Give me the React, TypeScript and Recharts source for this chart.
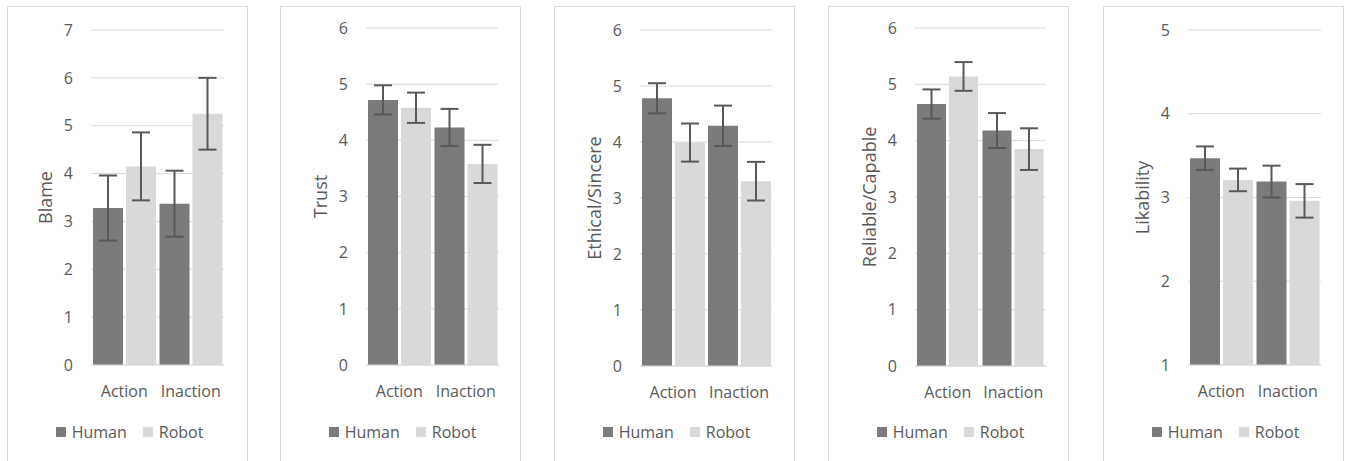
import React from 'react';
import { BarChart, Bar, XAxis, YAxis, CartesianGrid, ErrorBar, Legend } from 'recharts';

const categories = ['Action', 'Inaction'];

const blameHuman = [3.28, 3.37];
const blameHumanErr = [0.68, 0.69];
const blameRobot = [4.15, 5.25];
const blameRobotErr = [0.71, 0.75];

const trustHuman = [4.72, 4.23];
const trustHumanErr = [0.26, 0.33];
const trustRobot = [4.58, 3.58];
const trustRobotErr = [0.27, 0.34];

const ethicalHuman = [4.78, 4.29];
const ethicalHumanErr = [0.27, 0.36];
const ethicalRobot = [3.99, 3.3];
const ethicalRobotErr = [0.34, 0.345];

const reliableHuman = [4.65, 4.18];
const reliableHumanErr = [0.26, 0.31];
const reliableRobot = [5.14, 3.85];
const reliableRobotErr = [0.255, 0.37];

const likeHuman = [3.47, 3.19];
const likeHumanErr = [0.14, 0.19];
const likeRobot = [3.21, 2.96];
const likeRobotErr = [0.135, 0.2];

const blameTicks = [0, 1, 2, 3, 4, 5, 6, 7];
const sixTicks = [0, 1, 2, 3, 4, 5, 6];
const likeTicks = [1, 2, 3, 4, 5];

const HUMAN = '#7b7b7b';
const ROBOT = '#d9d9d9';
const TEXT = '#595959';
const GRID = '#d9d9d9';

const build = (h: number[], he: number[], r: number[], re: number[]) =>
  categories.map((c, i) => ({ cat: c, human: h[i], humanErr: he[i], robot: r[i], robotErr: re[i] }));

const panels = [
  { label: 'Blame', data: build(blameHuman, blameHumanErr, blameRobot, blameRobotErr), domain: [0, 7], ticks: blameTicks, left: 7, plotLeft: 91, plotRight: 224, top: 30, bottom: 365 },
  { label: 'Trust', data: build(trustHuman, trustHumanErr, trustRobot, trustRobotErr), domain: [0, 6], ticks: sixTicks, left: 280, plotLeft: 366, plotRight: 499, top: 28, bottom: 365 },
  { label: 'Ethical/Sincere', data: build(ethicalHuman, ethicalHumanErr, ethicalRobot, ethicalRobotErr), domain: [0, 6], ticks: sixTicks, left: 554, plotLeft: 640, plotRight: 772, top: 30, bottom: 366 },
  { label: 'Reliable/Capable', data: build(reliableHuman, reliableHumanErr, reliableRobot, reliableRobotErr), domain: [0, 6], ticks: sixTicks, left: 828, plotLeft: 915, plotRight: 1046, top: 28, bottom: 366 },
  { label: 'Likability', data: build(likeHuman, likeHumanErr, likeRobot, likeRobotErr), domain: [1, 5], ticks: likeTicks, left: 1103, plotLeft: 1188, plotRight: 1321, top: 30, bottom: 365 },
];

const CHART_W = 239;
const CHART_H = 452;

const renderLegend = (props: any) => {
  const { payload } = props;
  return (
    <div style={{ display: 'flex', justifyContent: 'center', gap: 16, fontSize: 16, color: TEXT, paddingLeft: 4 }}>
      {payload.map((entry: any) => (
        <span key={entry.value} style={{ display: 'flex', alignItems: 'center' }}>
          <span style={{ width: 10, height: 10, background: entry.color, marginRight: 6, display: 'inline-block' }} />
          {entry.value}
        </span>
      ))}
    </div>
  );
};

const Panel = ({ p }: { p: (typeof panels)[number] }) => {
  const ox = p.left + 1;
  const axisW = p.plotLeft - ox;
  const right = CHART_W - (p.plotRight - ox);
  const top = p.top - 7;
  const xH = CHART_H - (p.bottom - 7);
  const labelDx = p.plotLeft - p.left - 46 - axisW / 2;
  return (
    <div
      style={{
        position: 'absolute',
        left: p.left,
        top: 6,
        width: 241,
        height: 470,
        border: `1px solid ${GRID}`,
        boxSizing: 'border-box',
      }}
    >
      <BarChart width={CHART_W} height={CHART_H} data={p.data} margin={{ top, right, left: 0, bottom: 0 }} barCategoryGap={2} barGap={3}>
        <CartesianGrid vertical={false} stroke={GRID} />
        <XAxis
          dataKey="cat"
          height={xH}
          axisLine={{ stroke: GRID }}
          tickLine={false}
          tickMargin={15}
          tick={{ fill: TEXT, fontSize: 16 }}
        />
        <YAxis
          width={axisW}
          domain={p.domain}
          ticks={p.ticks}
          axisLine={false}
          tickLine={false}
          tickMargin={12}
          tick={{ fill: TEXT, fontSize: 16 }}
          label={{ value: p.label, angle: -90, position: 'center', dx: labelDx, fill: TEXT, fontSize: 18 }}
        />
        <Legend
          verticalAlign="middle"
          layout="horizontal"
          align="center"
          content={renderLegend}
          wrapperStyle={{ top: 414, left: 0, width: CHART_W }}
        />
        <Bar dataKey="human" name="Human" fill={HUMAN} isAnimationActive={false}>
          <ErrorBar dataKey="humanErr" width={9} stroke={TEXT} strokeWidth={2} isAnimationActive={false} />
        </Bar>
        <Bar dataKey="robot" name="Robot" fill={ROBOT} isAnimationActive={false}>
          <ErrorBar dataKey="robotErr" width={9} stroke={TEXT} strokeWidth={2} isAnimationActive={false} />
        </Bar>
      </BarChart>
    </div>
  );
};

export default function App() {
  return (
    <div
      style={{
        position: 'absolute',
        left: 0,
        top: 0,
        width: 1347,
        height: 461,
        overflow: 'hidden',
        background: '#fff',
        fontFamily: '"Open Sans", sans-serif',
      }}
    >
      {panels.map((p) => (
        <Panel key={p.label} p={p} />
      ))}
    </div>
  );
}
